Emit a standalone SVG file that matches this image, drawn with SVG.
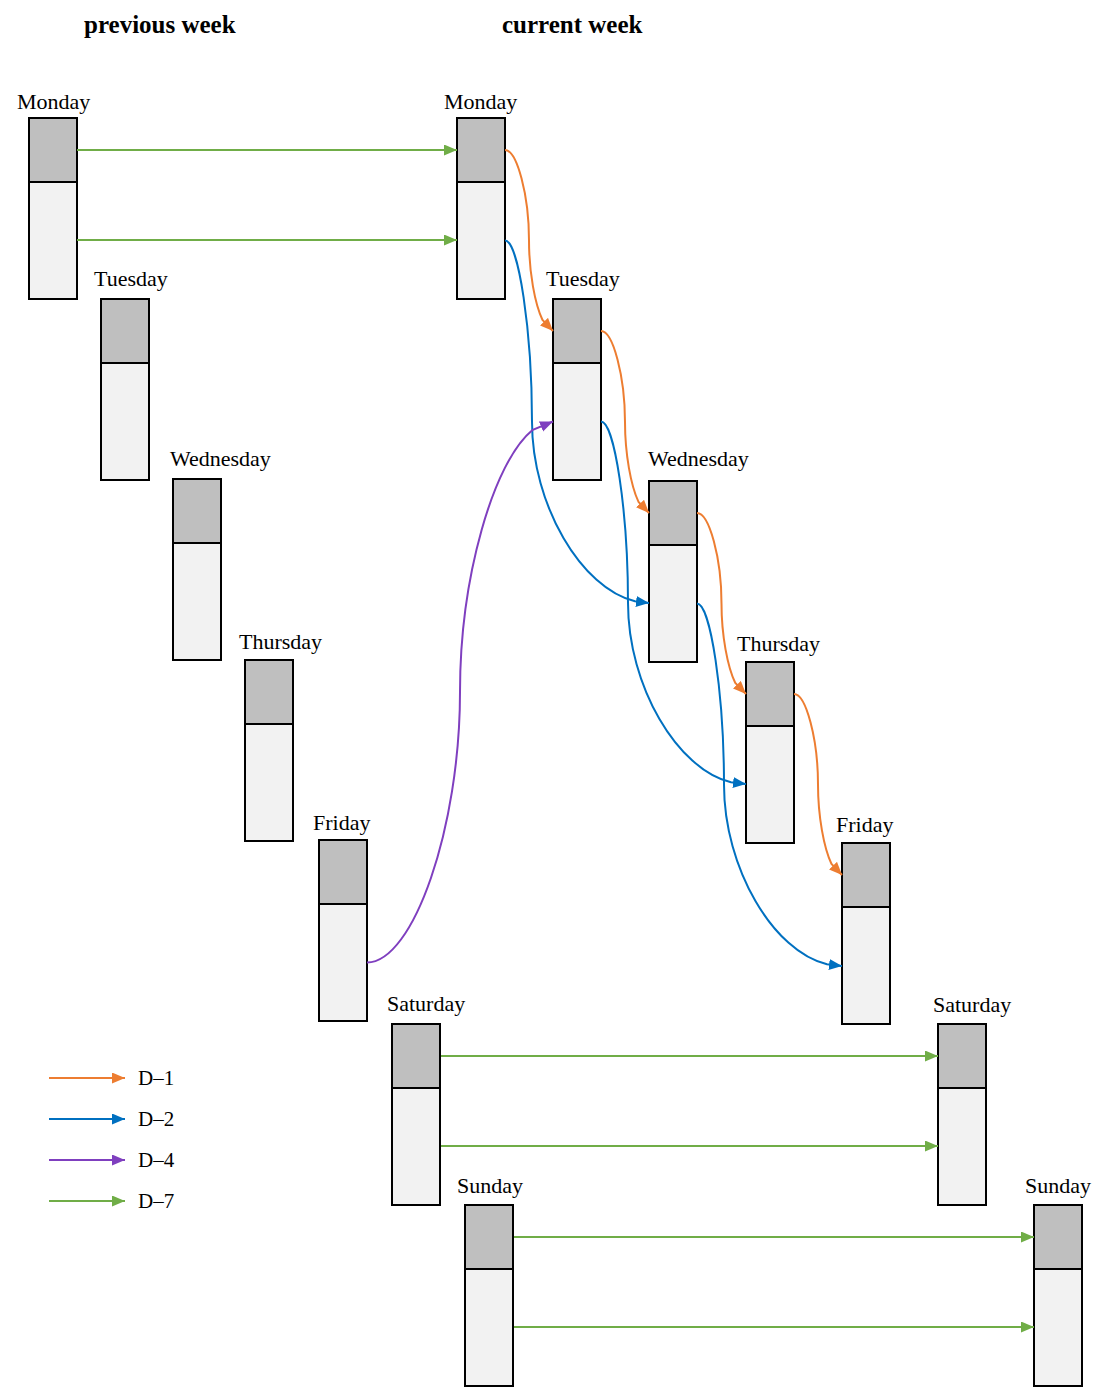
<svg xmlns="http://www.w3.org/2000/svg" width="1112" height="1387" viewBox="0 0 1112 1387">
  <style>
    .head { font-family: "Liberation Serif", "Times New Roman", serif; font-size: 25px; font-weight: bold; fill: #000; }
    .lbl { font-family: "Liberation Serif", "Times New Roman", serif; font-size: 22px; fill: #000; }
    .leg { font-family: "Liberation Serif", "Times New Roman", serif; font-size: 21px; fill: #000; }
    .top { fill: #BFBFBF; stroke: #000; stroke-width: 2; }
    .bot { fill: #F2F2F2; stroke: #000; stroke-width: 2; }
    .c { fill: none; stroke-width: 2; }
    .d1 { stroke: #ED7D31; marker-end: url(#a1); }
    .d2 { stroke: #0070C0; marker-end: url(#a2); }
    .d4 { stroke: #7F3FBF; marker-end: url(#a4); }
    .d7 { stroke: #70AD47; marker-end: url(#a7); }
  </style>
  <defs>
    <marker id="a1" markerUnits="userSpaceOnUse" markerWidth="14" markerHeight="12" refX="13" refY="5.5" orient="auto">
      <path d="M0,0 L13,5.5 L0,11 z" fill="#ED7D31"/>
    </marker>
    <marker id="a2" markerUnits="userSpaceOnUse" markerWidth="14" markerHeight="12" refX="13" refY="5.5" orient="auto">
      <path d="M0,0 L13,5.5 L0,11 z" fill="#0070C0"/>
    </marker>
    <marker id="a4" markerUnits="userSpaceOnUse" markerWidth="14" markerHeight="12" refX="13" refY="5.5" orient="auto">
      <path d="M0,0 L13,5.5 L0,11 z" fill="#7F3FBF"/>
    </marker>
    <marker id="a7" markerUnits="userSpaceOnUse" markerWidth="14" markerHeight="12" refX="13" refY="5.5" orient="auto">
      <path d="M0,0 L13,5.5 L0,11 z" fill="#70AD47"/>
    </marker>
    <!-- a day block: grey upper part, light lower part -->
    <g id="day">
      <rect class="bot" x="0" y="64" width="48" height="117"/>
      <rect class="top" x="0" y="0" width="48" height="64"/>
    </g>
  </defs>

  <rect width="1112" height="1387" fill="#fff"/>

  <text class="head" x="84" y="33">previous week</text>
  <text class="head" x="502" y="33">current week</text>

  <!-- previous week -->
  <g id="prev-mon"><use href="#day" x="29" y="118"/><text class="lbl" x="17" y="109">Monday</text></g>
  <g id="prev-tue"><use href="#day" x="101" y="299"/><text class="lbl" x="94" y="286">Tuesday</text></g>
  <g id="prev-wed"><use href="#day" x="173" y="479"/><text class="lbl" x="170" y="466">Wednesday</text></g>
  <g id="prev-thu"><use href="#day" x="245" y="660"/><text class="lbl" x="239" y="649">Thursday</text></g>
  <g id="prev-fri"><use href="#day" x="319" y="840"/><text class="lbl" x="313" y="830">Friday</text></g>
  <g id="prev-sat"><use href="#day" x="392" y="1024"/><text class="lbl" x="387" y="1011">Saturday</text></g>
  <g id="prev-sun"><use href="#day" x="465" y="1205"/><text class="lbl" x="457" y="1193">Sunday</text></g>

  <!-- current week -->
  <g id="cur-mon"><use href="#day" x="457" y="118"/><text class="lbl" x="444" y="109">Monday</text></g>
  <g id="cur-tue"><use href="#day" x="553" y="299"/><text class="lbl" x="546" y="286">Tuesday</text></g>
  <g id="cur-wed"><use href="#day" x="649" y="481"/><text class="lbl" x="648" y="466">Wednesday</text></g>
  <g id="cur-thu"><use href="#day" x="746" y="662"/><text class="lbl" x="737" y="651">Thursday</text></g>
  <g id="cur-fri"><use href="#day" x="842" y="843"/><text class="lbl" x="836" y="832">Friday</text></g>
  <g id="cur-sat"><use href="#day" x="938" y="1024"/><text class="lbl" x="933" y="1012">Saturday</text></g>
  <g id="cur-sun"><use href="#day" x="1034" y="1205"/><text class="lbl" x="1025" y="1193">Sunday</text></g>

  <!-- connectors -->
  <g id="connectors">
    <!-- D-7: same weekday, previous week -->
    <path class="c d7" d="M77,150 L457,150"/>
    <path class="c d7" d="M77,240 L457,240"/>
    <path class="c d7" d="M441,1056 L938,1056"/>
    <path class="c d7" d="M441,1146 L938,1146"/>
    <path class="c d7" d="M514,1237 L1034,1237"/>
    <path class="c d7" d="M514,1327 L1034,1327"/>

    <!-- D-1: previous day -->
    <path class="c d1" d="M505,150 c12,0 24,45.25 24,90.5 c0,31.68 5.88,63.35 13.52,79.51 l10.48,10.99"/>
    <path class="c d1" d="M601,331 c12,0 24,45.5 24,91 c0,31.85 5.88,63.7 13.52,79.93 l10.48,11.07"/>
    <path class="c d1" d="M697,513 c12.25,0 24.5,45.25 24.5,90.5 c0,31.68 6,63.35 13.8,79.51 l10.7,10.99"/>
    <path class="c d1" d="M794,694 c12,0 24,45.25 24,90.5 c0,31.68 5.88,63.35 13.52,79.51 l10.48,10.99"/>

    <!-- D-2: two days back -->
    <path class="c d2" d="M505,240.5 c13.5,0 27,90.6 27,181.25 c0,83.4 49.51,166.75 102.99,179.56 l14.01,1.69"/>
    <path class="c d2" d="M601,421.5 c13.5,0 27,90.6 27,181.25 c0,83.4 49.51,166.75 102.99,179.56 l15.01,1.69"/>
    <path class="c d2" d="M697,603.5 c13.5,0 27,90.6 27,181.25 c0,83.4 49.51,166.75 102.99,179.56 l15.01,1.69"/>

    <!-- D-4: four days back -->
    <path class="c d4" d="M367,962.5 c46.5,0 93,-135.25 93,-270.5 c0,-114.96 33.6,-229.92 72.23,-261.83 l20.77,-8.67"/>
  </g>

  <!-- legend -->
  <g id="legend">
    <path class="c d1" d="M49,1078 L125,1078"/>
    <path class="c d2" d="M49,1119 L125,1119"/>
    <path class="c d4" d="M49,1160 L125,1160"/>
    <path class="c d7" d="M49,1201 L125,1201"/>
    <text class="leg" x="138" y="1085">D–1</text>
    <text class="leg" x="138" y="1126">D–2</text>
    <text class="leg" x="138" y="1167">D–4</text>
    <text class="leg" x="138" y="1208">D–7</text>
  </g>
</svg>
